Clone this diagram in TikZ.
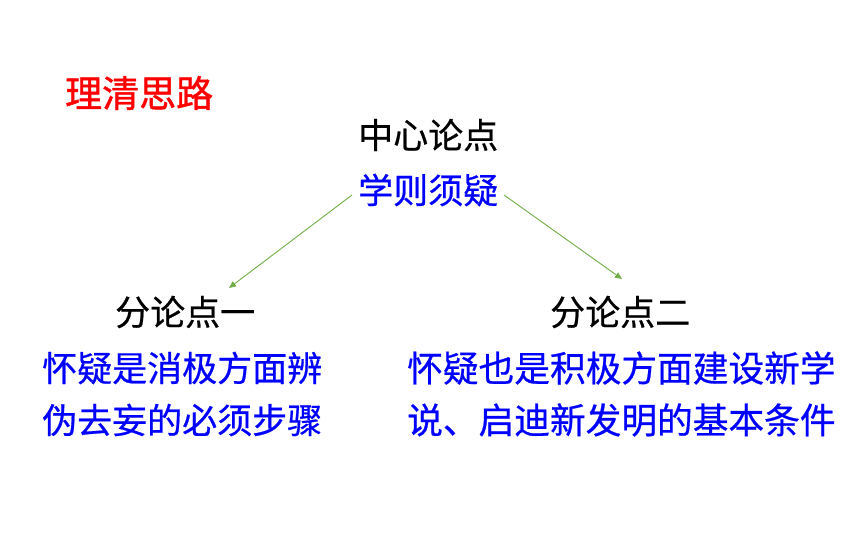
\documentclass[tikz,border=0pt]{standalone}
\usepackage{fontspec}
\newfontfamily\cjk{Noto Sans CJK SC}
\newfontfamily\cjkm[FakeBold=0.6]{Noto Sans CJK SC}
\newfontfamily\cjkt[FakeBold=1.2]{Noto Sans CJK SC}
\usetikzlibrary{arrows.meta}
\definecolor{arrgreen}{RGB}{112,173,71}
\begin{document}
\begin{tikzpicture}[x=1pt,y=-1pt,
  lbl/.style={inner sep=0pt,font=\cjkm\fontsize{35}{40}\selectfont},
  blue/.style={lbl,text=blue,font=\cjkm\fontsize{35}{40}\selectfont},
  link/.style={draw=arrgreen,line width=0.9pt,-{Triangle[length=7pt,width=6pt]}}]
\useasboundingbox (0,0) rectangle (860,538);
\node[lbl,text=red,font=\cjkt\fontsize{37}{40}\selectfont,anchor=west] (title) at (65,93) {理清思路};
\node[lbl,anchor=west] (center) at (358,135) {中心论点};
\node[blue,anchor=west] (thesis) at (358,190) {学则须疑};
\node[lbl,anchor=west] (sub1) at (115,312) {分论点一};
\node[lbl,anchor=west] (sub2) at (550,312) {分论点二};
\node[blue,anchor=west] (a1) at (42,368) {怀疑是消极方面辨};
\node[blue,anchor=west] (a2) at (42,420) {伪去妄的必须步骤};
\node[blue,anchor=west,font=\cjkm\fontsize{35.7}{40}\selectfont] (b1) at (407,368) {怀疑也是积极方面建设新学};
\node[blue,anchor=west,font=\cjkm\fontsize{35.7}{40}\selectfont] (b2) at (407,420) {说、启迪新发明的基本条件};
\coordinate (s1) at (352,195);
\coordinate (e1) at (229,288);
\coordinate (s2) at (504,195);
\coordinate (e2) at (622,279);
\draw[link] (s1) -- (e1);
\draw[link] (s2) -- (e2);
\end{tikzpicture}
\end{document}
